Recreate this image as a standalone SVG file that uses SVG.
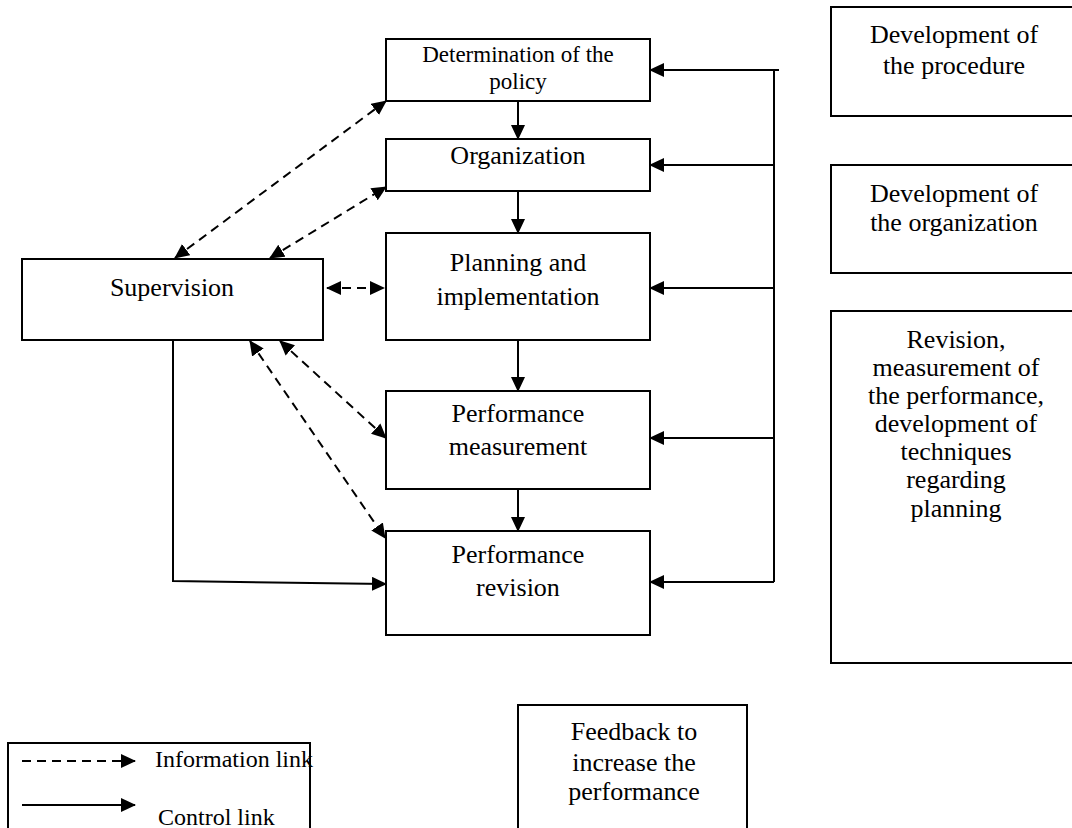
<svg xmlns="http://www.w3.org/2000/svg" width="1072" height="828" viewBox="0 0 1072 828">
<style>
.box{fill:#fff;stroke:#000;stroke-width:2}
.t{font-family:"Liberation Serif","Times New Roman",serif;font-size:26px;fill:#000;text-anchor:middle}
.s{font-size:23px}
.lg{font-family:"Liberation Serif","Times New Roman",serif;font-size:24px;fill:#000}
.c{fill:none;stroke:#000;stroke-width:2}
.d{fill:none;stroke:#000;stroke-width:2;stroke-dasharray:9,6}
</style>
<defs>
<marker id="ah" markerUnits="userSpaceOnUse" markerWidth="16" markerHeight="14" refX="14" refY="7" orient="auto-start-reverse">
<path d="M0,0 L15,7 L0,14 Z" fill="#000"/>
</marker>
</defs>
<rect width="1072" height="828" fill="#fff"/>
<g id="n-policy"><rect class="box" x="386" y="39" width="264" height="62"/><text class="t s" x="518" y="62">Determination of the</text><text class="t s" x="518" y="89">policy</text></g>
<g id="n-org"><rect class="box" x="386" y="139" width="264" height="52"/><text class="t" x="518" y="164">Organization</text></g>
<g id="n-plan"><rect class="box" x="386" y="233" width="264" height="107"/><text class="t" x="518" y="271">Planning and</text><text class="t" x="518" y="305">implementation</text></g>
<g id="n-meas"><rect class="box" x="386" y="391" width="264" height="98"/><text class="t" x="518" y="422">Performance</text><text class="t" x="518" y="455">measurement</text></g>
<g id="n-rev"><rect class="box" x="386" y="531" width="264" height="104"/><text class="t" x="518" y="563">Performance</text><text class="t" x="518" y="596">revision</text></g>
<g id="n-sup"><rect class="box" x="22" y="259" width="301" height="81"/><text class="t" x="172" y="296">Supervision</text></g>
<g id="n-proc"><rect class="box" x="831" y="7" width="250" height="109"/><text class="t" x="954" y="43">Development of</text><text class="t" x="954" y="74">the procedure</text></g>
<g id="n-devorg"><rect class="box" x="831" y="165" width="250" height="108"/><text class="t" x="954" y="202">Development of</text><text class="t" x="954" y="231">the organization</text></g>
<g id="n-revis"><rect class="box" x="831" y="311" width="250" height="352"/>
<text class="t" x="956" y="348">Revision,</text><text class="t" x="956" y="376">measurement of</text><text class="t" x="956" y="404">the performance,</text><text class="t" x="956" y="432">development of</text><text class="t" x="956" y="460">techniques</text><text class="t" x="956" y="488">regarding</text><text class="t" x="956" y="517">planning</text></g>
<g id="n-feedback"><rect class="box" x="518" y="705" width="229" height="140"/><text class="t" x="634" y="740">Feedback to</text><text class="t" x="634" y="771">increase the</text><text class="t" x="634" y="800">performance</text></g>
<g id="legend"><rect class="box" x="8" y="743" width="302" height="100"/>
<line class="d" x1="22" y1="761" x2="135" y2="761" marker-end="url(#ah)"/>
<line class="c" x1="22" y1="805" x2="135" y2="805" marker-end="url(#ah)"/>
<text class="lg" x="155" y="767">Information link</text>
<text class="lg" x="158" y="825">Control link</text></g>
<g id="connectors">
<line class="c" x1="518" y1="101" x2="518" y2="139" marker-end="url(#ah)"/>
<line class="c" x1="518" y1="191" x2="518" y2="233" marker-end="url(#ah)"/>
<line class="c" x1="518" y1="340" x2="518" y2="391" marker-end="url(#ah)"/>
<line class="c" x1="518" y1="489" x2="518" y2="531" marker-end="url(#ah)"/>
<polyline class="c" points="779,70 774,70 774,582"/>
<line class="c" x1="774" y1="70" x2="650" y2="70" marker-end="url(#ah)"/>
<line class="c" x1="774" y1="165" x2="650" y2="165" marker-end="url(#ah)"/>
<line class="c" x1="774" y1="288" x2="650" y2="288" marker-end="url(#ah)"/>
<line class="c" x1="774" y1="438" x2="650" y2="438" marker-end="url(#ah)"/>
<line class="c" x1="774" y1="582" x2="650" y2="582" marker-end="url(#ah)"/>
<polyline class="c" points="173,340 173,581 386,584" marker-end="url(#ah)"/>
<line class="d" x1="175" y1="258" x2="386" y2="101" marker-start="url(#ah)" marker-end="url(#ah)"/>
<line class="d" x1="270" y1="258" x2="386" y2="187" marker-start="url(#ah)" marker-end="url(#ah)"/>
<line class="d" x1="327" y1="288" x2="384" y2="288" marker-start="url(#ah)" marker-end="url(#ah)"/>
<line class="d" x1="280" y1="341" x2="386" y2="438" marker-start="url(#ah)" marker-end="url(#ah)"/>
<line class="d" x1="250" y1="341" x2="385" y2="538" marker-start="url(#ah)" marker-end="url(#ah)"/>
</g>
</svg>
